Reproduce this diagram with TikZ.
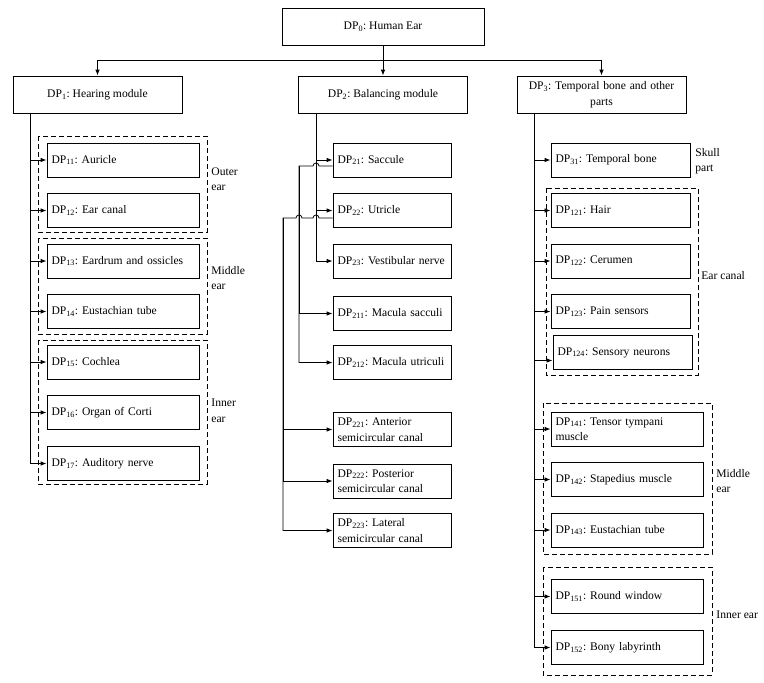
\documentclass[tikz,border=0pt]{standalone}
\usepackage{fontspec}
\setmainfont{Liberation Serif}
\usetikzlibrary{arrows.meta}
\newcommand\dpn[1]{DP\textsubscript{#1}}
\begin{document}
\frenchspacing
\hyphenpenalty=10000
\exhyphenpenalty=10000
\begin{tikzpicture}[x=1pt,y=-1pt,
  font=\fontsize{11.6}{15.5}\selectfont,
  line width=0.8pt,
  topbox/.style={draw, minimum height=37pt, inner sep=2pt, align=center},
  leaf/.style={draw, minimum height=34pt, inner xsep=4.5pt, inner ysep=2pt, align=left, text width=#1},
  arr/.style={-{Latex[length=6pt,width=4.5pt]}},
  grp/.style={draw, dash pattern=on 5pt off 3pt},
  lbl/.style={anchor=west, align=left, inner sep=0pt}]
\useasboundingbox (0,0) rectangle (764,683);

% top level
\node[topbox, minimum width=202pt] (dp0) at (383,26.5) {\dpn{0}: Human Ear};
\node[topbox, minimum width=169pt] (dp1) at (97.5,94.5) {\dpn{1}: Hearing module};
\node[topbox, minimum width=169pt] (dp2) at (383,94.5) {\dpn{2}: Balancing module};
\node[topbox, minimum width=169pt, text width=160pt] (dp3) at (601.5,94.5) {\dpn{3}: Temporal bone and other\\parts};

\coordinate (hj) at (0,60);
\draw (dp0.south) -- (dp0.south |- hj);
\draw[arr] (dp0.south |- hj) -| (dp1.north);
\draw[arr] (dp0.south |- hj) -- (dp2.north);
\draw[arr] (dp0.south |- hj) -| (dp3.north);

% column 1
\node[leaf=143pt] (dp11) at (123,160) {\dpn{11}: Auricle};
\node[leaf=143pt] (dp12) at (123,210.5) {\dpn{12}: Ear canal};
\node[leaf=143pt] (dp13) at (123,261) {\dpn{13}: Eardrum and ossicles};
\node[leaf=143pt] (dp14) at (123,311.5) {\dpn{14}: Eustachian tube};
\node[leaf=143pt] (dp15) at (123,362) {\dpn{15}: Cochlea};
\node[leaf=143pt] (dp16) at (123,412.5) {\dpn{16}: Organ of Corti};
\node[leaf=143pt] (dp17) at (123,463.5) {\dpn{17}: Auditory nerve};

\coordinate (x1) at (30,0);
\foreach \n in {11,12,13,14,15,16,17}
  \draw[arr] (dp1.south -| x1) |- (dp\n.west);

\draw[grp] (38,136) rectangle (207,232);
\draw[grp] (38,238) rectangle (207,334);
\draw[grp] (38,340) rectangle (207,484);
\node[lbl] (louter) at (211,179) {Outer\\ear};
\node[lbl] (lmid1) at (211,278) {Middle\\ear};
\node[lbl] (linn1) at (211,411) {Inner\\ear};

% column 2
\node[leaf=109pt] (dp21) at (392,160) {\dpn{21}: Saccule};
\node[leaf=109pt] (dp22) at (392,210.5) {\dpn{22}: Utricle};
\node[leaf=109pt] (dp23) at (392,261) {\dpn{23}: Vestibular nerve};
\node[leaf=109pt] (dp211) at (392,313.5) {\dpn{211}: Macula sacculi};
\node[leaf=109pt] (dp212) at (392,362.5) {\dpn{212}: Macula utriculi};
\node[leaf=109pt] (dp221) at (392,429.5) {\dpn{221}: Anterior\\semicircular canal};
\node[leaf=109pt] (dp222) at (392,481) {\dpn{222}: Posterior\\semicircular canal};
\node[leaf=109pt] (dp223) at (392,530.5) {\dpn{223}: Lateral\\semicircular canal};

\coordinate (x2) at (316,0);
\foreach \n in {21,22,23}
  \draw[arr] (dp2.south -| x2) |- (dp\n.west);

\coordinate (j21) at (299,166);
\draw[arr] ([yshift=-6pt]dp21.west) -- (319,166)
  arc[start angle=0,end angle=180,radius=3pt] -- (j21) |- (dp212.west);
\draw[arr] (j21) |- (dp211.west);

\coordinate (j22) at (283,218);
\draw[arr] ([yshift=-7.5pt]dp22.west) -- (319,218)
  arc[start angle=0,end angle=180,radius=3pt] -- (302,218)
  arc[start angle=0,end angle=180,radius=3pt] -- (j22) |- (dp223.west);
\draw[arr] (j22) |- (dp221.west);
\draw[arr] (j22) |- (dp222.west);

% column 3
\node[leaf=130pt] (dp31) at (620.5,160) {\dpn{31}: Temporal bone};
\node[leaf=130pt] (dp121) at (620.5,210.5) {\dpn{121}: Hair};
\node[leaf=130pt] (dp122) at (620.5,261) {\dpn{122}: Cerumen};
\node[leaf=130pt] (dp123) at (620.5,311.5) {\dpn{123}: Pain sensors};
\node[leaf=130pt] (dp124) at (622.5,352.5) {\dpn{124}: Sensory neurons};
\node[leaf=143pt] (dp141) at (627,429) {\dpn{141}: Tensor tympani\\muscle};
\node[leaf=143pt] (dp142) at (627,479.5) {\dpn{142}: Stapedius muscle};
\node[leaf=143pt] (dp143) at (627,530) {\dpn{143}: Eustachian tube};
\node[leaf=143pt] (dp151) at (627,596.5) {\dpn{151}: Round window};
\node[leaf=143pt] (dp152) at (627,647.5) {\dpn{152}: Bony labyrinth};

\coordinate (x3) at (534.5,0);
\foreach \n in {31,121,122,123,141,142,143,151,152}
  \draw[arr] (dp3.south -| x3) |- (dp\n.west);
\draw[arr] (dp3.south -| x3) |- ([yshift=-8pt]dp124.west);

\draw[grp] (546,188) rectangle (698,375);
\draw[grp] (543,403) rectangle (712,554);
\draw[grp] (543,567) rectangle (712,675);
\node[lbl] (lskull) at (695,161) {Skull\\part};
\node[lbl] (lcanal) at (701,276) {Ear canal};
\node[lbl] (lmid3) at (716,481) {Middle\\ear};
\node[lbl] (linn3) at (716,615) {Inner ear};
\end{tikzpicture}
\end{document}
